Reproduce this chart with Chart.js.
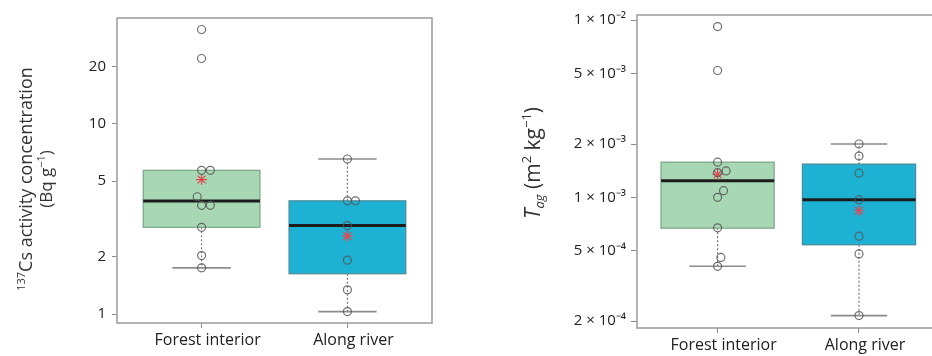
<!DOCTYPE html>
<html>
<head>
<meta charset="utf-8">
<title>137Cs and Tag box plots</title>
<script src="https://cdn.jsdelivr.net/npm/chart.js@4.4.1/dist/chart.umd.min.js"></script>
<style>
  html, body { margin: 0; padding: 0; background: #fff; overflow: hidden; width: 932px; height: 356px; position: relative; }
  canvas { position: absolute; top: 0; }
  #csChart { left: 0; }
  #tagChart { left: 470px; }
</style>
</head>
<body>
<canvas id="csChart" width="460" height="356"></canvas>
<canvas id="tagChart" width="490" height="356"></canvas>
<script>
// ===================== DATA =====================
const categories = ['Forest interior', 'Along river'];

// 137Cs activity concentration (Bq g-1) per site
const csForest = [31.4, 22.1, 5.7, 5.7, 4.14, 3.73, 3.73, 2.86, 2.03, 1.75];
const csRiver = [6.54, 3.94, 3.94, 2.92, 1.92, 1.34, 1.03];
// sideways nudge of overlapping circles, in category units
const csForestJitter = [0, 0, 0, 0.06, -0.03, 0, 0.06, 0, 0, 0];
const csRiverJitter = [0, 0, 0.055, 0, 0, 0, 0];
// box statistics, [forest, river]
const csQ1 = [2.86, 1.63];
const csMedian = [3.93, 2.92];
const csQ3 = [5.7, 3.94];
const csLow = [1.75, 1.03];
const csHigh = [5.7, 6.54];
const csMean = [5.1, 2.57];
const csTicks = [1, 2, 5, 10, 20];
const csTickLabels = ['1', '2', '5', '10', '20'];

// Tag (m2 kg-1) per site
const tagForest = [9.2e-3, 5.2e-3, 1.58e-3, 1.41e-3, 1.38e-3, 1.09e-3, 1.0e-3, 6.73e-4, 4.58e-4, 4.08e-4];
const tagRiver = [2.0e-3, 1.71e-3, 1.37e-3, 9.7e-4, 6.04e-4, 4.79e-4, 2.15e-4];
const tagForestJitter = [0, 0, 0, 0.06, 0, 0.042, 0, 0, 0.023, 0];
const tagRiverJitter = [0, 0, 0, 0, 0, 0, 0];
const tagQ1 = [6.7e-4, 5.4e-4];
const tagMedian = [1.24e-3, 9.7e-4];
const tagQ3 = [1.58e-3, 1.54e-3];
const tagLow = [4.08e-4, 2.15e-4];
const tagHigh = [1.58e-3, 2.0e-3];
const tagMean = [1.35e-3, 8.4e-4];
const tagTicks = [2e-4, 5e-4, 1e-3, 2e-3, 5e-3, 1e-2];
const tagTickLabels = ['2 × 10⁻⁴', '5 × 10⁻⁴', '1 × 10⁻³', '2 × 10⁻³', '5 × 10⁻³', '1 × 10⁻²'];

// ===================== STYLE =====================
const FONT = '"Open Sans", "Liberation Sans", sans-serif';
const boxFill = ['#a7d8b3', '#1db2d3'];
const boxEdge = ['#7fa98a', '#4c8d9c'];

// draw text made of parts (italic / sub / sup), rotated for a y axis title
function drawRich(ctx, parts, cx, cy, size) {
    ctx.save();
    ctx.translate(cx, cy);
    ctx.rotate(-Math.PI / 2);
    ctx.fillStyle = '#333';
    ctx.textBaseline = 'alphabetic';
    const fontFor = p => (p.italic ? 'italic ' : '') + ((p.sup || p.sub) ? Math.round(size * 0.62) : size) + 'px ' + FONT;
    let total = 0;
    parts.forEach(p => { ctx.font = fontFor(p); total += ctx.measureText(p.text).width; });
    let x = -total / 2;
    const base = size * 0.36;
    parts.forEach(p => {
        ctx.font = fontFor(p);
        const dy = p.sup ? -size * 0.4 : (p.sub ? size * 0.22 : 0);
        ctx.fillText(p.text, x, base + dy);
        x += ctx.measureText(p.text).width;
    });
    ctx.restore();
}

// frame + boxes + whiskers, placed through the chart's own scales
function boxPlugin(stats) {
    return {
        id: 'boxes',
        beforeDatasetsDraw(chart) {
            const {ctx, chartArea: a, scales: {x, y}} = chart;
            ctx.save();
            // frame
            ctx.strokeStyle = '#9a9a9a';
            ctx.lineWidth = 1.5;
            ctx.strokeRect(a.left, a.top, a.right - a.left, a.bottom - a.top);

            stats.q1.forEach((q1, i) => {
                const c = i + 1;
                const xl = x.getPixelForValue(c - 0.4), xr = x.getPixelForValue(c + 0.4);
                const xc = x.getPixelForValue(c);
                const cl = x.getPixelForValue(c - 0.2), cr = x.getPixelForValue(c + 0.2);
                const yq1 = y.getPixelForValue(q1), yq3 = y.getPixelForValue(stats.q3[i]);
                const ylo = y.getPixelForValue(stats.low[i]), yhi = y.getPixelForValue(stats.high[i]);
                const ymed = y.getPixelForValue(stats.median[i]);

                // dotted whiskers
                ctx.strokeStyle = '#777';
                ctx.lineWidth = 1.2;
                ctx.setLineDash([2, 2]);
                ctx.beginPath();
                ctx.moveTo(xc, yq1); ctx.lineTo(xc, ylo);
                if (stats.high[i] > stats.q3[i]) { ctx.moveTo(xc, yq3); ctx.lineTo(xc, yhi); }
                ctx.stroke();
                ctx.setLineDash([]);

                // caps
                ctx.strokeStyle = '#8c8c8c';
                ctx.lineWidth = 1.6;
                ctx.beginPath();
                ctx.moveTo(cl, ylo); ctx.lineTo(cr, ylo);
                if (stats.high[i] > stats.q3[i]) { ctx.moveTo(cl, yhi); ctx.lineTo(cr, yhi); }
                ctx.stroke();

                // box
                ctx.fillStyle = boxFill[i];
                ctx.fillRect(xl, yq3, xr - xl, yq1 - yq3);
                ctx.strokeStyle = boxEdge[i];
                ctx.lineWidth = 1.3;
                ctx.strokeRect(xl, yq3, xr - xl, yq1 - yq3);

                // median
                ctx.strokeStyle = '#1c1c1c';
                ctx.lineWidth = 3;
                ctx.beginPath();
                ctx.moveTo(xl, ymed); ctx.lineTo(xr, ymed);
                ctx.stroke();
            });
            ctx.restore();
        }
    };
}

function titlePlugin(lines) {
    return {
        id: 'axisTitle',
        afterDraw(chart) {
            lines.forEach(l => drawRich(chart.ctx, l.parts, l.x, l.y, l.size));
        }
    };
}

function pointsOf(values, jitter, group) {
    return values.map((v, i) => ({x: group + jitter[i], y: v}));
}

function makeChart(id, cfg) {
    const points = pointsOf(cfg.forest, cfg.forestJitter, 1).concat(pointsOf(cfg.river, cfg.riverJitter, 2));
    const means = cfg.stats.mean.map((m, i) => ({x: i + 1, y: m}));
    return new Chart(document.getElementById(id), {
        type: 'scatter',
        data: {
            datasets: [{
                data: points,
                pointStyle: 'circle',
                pointRadius: 4,
                borderColor: 'rgba(85, 85, 85, 0.85)',
                backgroundColor: 'rgba(0, 0, 0, 0)',
                borderWidth: 1.2
            }, {
                data: means,
                pointStyle: 'star',
                pointRadius: 5.5,
                borderColor: '#e4474f',
                backgroundColor: '#e4474f',
                borderWidth: 1.2
            }]
        },
        options: {
            responsive: false,
            animation: false,
            layout: {padding: {top: cfg.top, right: cfg.right, bottom: 0, left: 0}},
            plugins: {legend: {display: false}, tooltip: {enabled: false}},
            scales: {
                x: {
                    type: 'linear',
                    min: cfg.xMin,
                    max: cfg.xMax,
                    bounds: 'data',
                    afterBuildTicks: s => { s.ticks = categories.map((c, i) => ({value: i + 1})); },
                    afterFit: s => { s.height = cfg.xHeight; },
                    grid: {drawOnChartArea: false, drawTicks: true, tickLength: 5, color: '#8a8a8a'},
                    border: {display: false},
                    ticks: {
                        callback: (v, i) => categories[i],
                        font: {family: FONT, size: 16},
                        color: '#222',
                        labelOffset: 6,
                        padding: 3,
                        maxRotation: 0,
                        autoSkip: false
                    }
                },
                y: {
                    type: 'logarithmic',
                    min: cfg.yMin,
                    max: cfg.yMax,
                    bounds: 'data',
                    afterBuildTicks: s => { s.ticks = cfg.ticks.map(v => ({value: v})); },
                    afterFit: s => { s.width = cfg.yWidth; },
                    grid: {drawOnChartArea: false, drawTicks: true, tickLength: cfg.tickLength, color: '#8a8a8a'},
                    border: {display: false},
                    ticks: {
                        callback: (v, i) => cfg.tickLabels[i],
                        font: {family: FONT, size: cfg.tickSize},
                        color: '#222',
                        padding: cfg.tickPad,
                        autoSkip: false
                    }
                }
            }
        },
        plugins: [boxPlugin(cfg.stats), titlePlugin(cfg.titles)]
    });
}

// ===================== CHARTS =====================
makeChart('csChart', {
    forest: csForest, river: csRiver,
    forestJitter: csForestJitter, riverJitter: csRiverJitter,
    stats: {q1: csQ1, median: csMedian, q3: csQ3, low: csLow, high: csHigh, mean: csMean},
    ticks: csTicks, tickLabels: csTickLabels,
    xMin: 0.42, xMax: 2.58, yMin: 0.897, yMax: 36.1,
    top: 18, right: 28, xHeight: 33, yWidth: 117,
    tickLength: 5, tickPad: 6, tickSize: 15,
    titles: [
        {x: 26, y: 179, size: 18, parts: [{text: '137', sup: true}, {text: 'Cs activity concentration'}]},
        {x: 46, y: 179, size: 17, parts: [{text: '(Bq g'}, {text: '−1', sup: true}, {text: ')'}]}
    ]
});

makeChart('tagChart', {
    forest: tagForest, river: tagRiver,
    forestJitter: tagForestJitter, riverJitter: tagRiverJitter,
    stats: {q1: tagQ1, median: tagMedian, q3: tagQ3, low: tagLow, high: tagHigh, mean: tagMean},
    ticks: tagTicks, tickLabels: tagTickLabels,
    xMin: 0.43, xMax: 2.58, yMin: 1.83e-4, yMax: 1.07e-2,
    top: 15, right: 19, xHeight: 28, yWidth: 167,
    tickLength: 6, tickPad: 5, tickSize: 15,
    titles: [
        {x: 62, y: 163, size: 21, parts: [
            {text: 'T', italic: true}, {text: 'ag', sub: true, italic: true},
            {text: ' (m'}, {text: '2', sup: true}, {text: ' kg'}, {text: '−1', sup: true}, {text: ')'}
        ]}
    ]
});
</script>
</body>
</html>
